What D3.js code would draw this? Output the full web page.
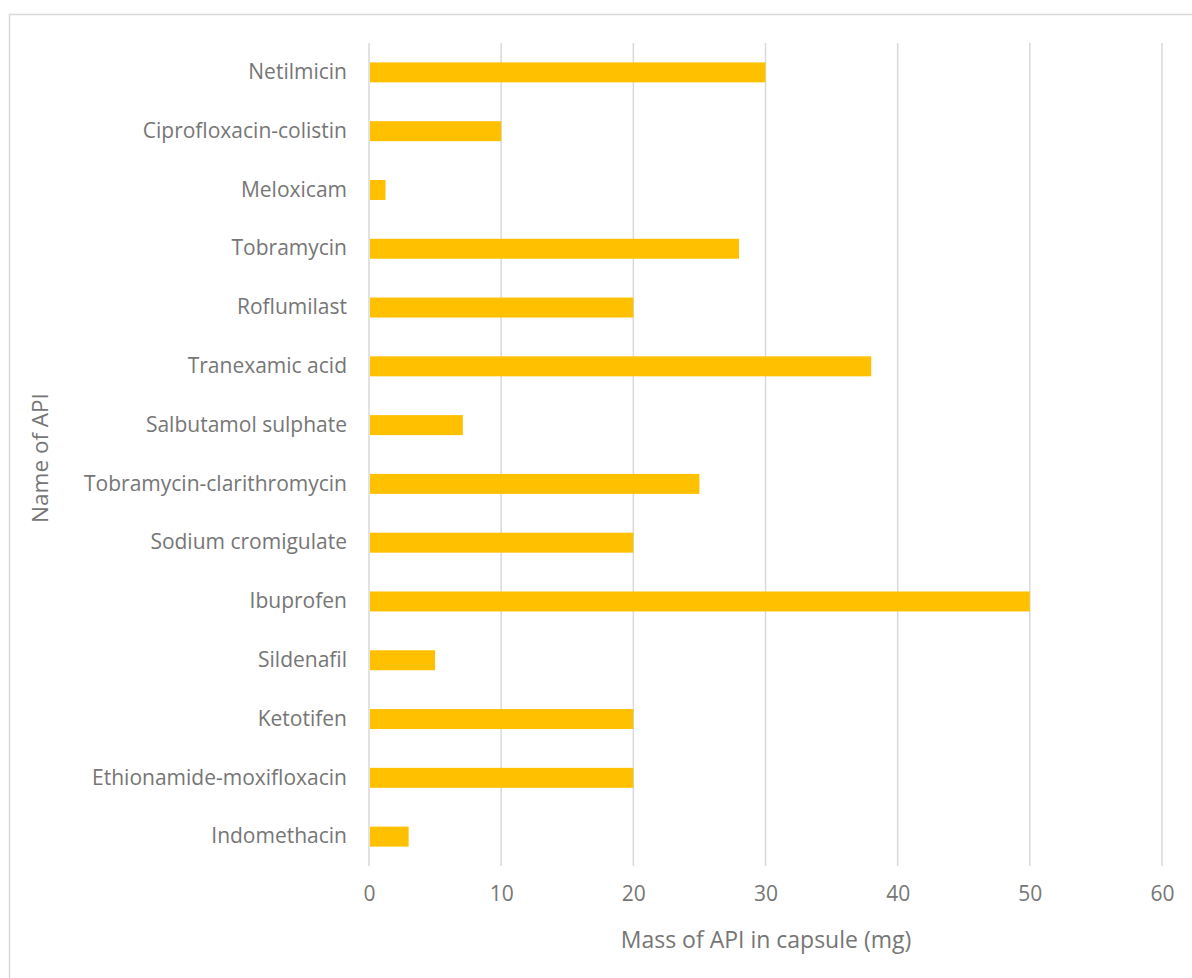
<!DOCTYPE html>
<html lang="en">
<head>
    <meta charset="UTF-8">
    <title>Mass of API in capsule</title>
    <script src="https://cdnjs.cloudflare.com/ajax/libs/d3/7.8.5/d3.min.js"></script>
    <style>
        body { margin: 0; background: #fff; }
        text { font-family: "Open Sans", sans-serif; fill: #767676; }
    </style>
</head>
<body>
<svg width="1192" height="978"></svg>
<script>
    // categories listed top to bottom
    var apiNames = [
        "Netilmicin", "Ciprofloxacin-colistin", "Meloxicam", "Tobramycin ",
        "Roflumilast", "Tranexamic acid", "Salbutamol sulphate",
        "Tobramycin-clarithromycin", "Sodium cromigulate", "Ibuprofen",
        "Sildenafil", "Ketotifen", "Ethionamide-moxifloxacin", "Indomethacin"
    ];
    var massMg = [30, 10, 1.25, 28, 20, 38, 7.1, 25, 20, 50, 5, 20, 20, 3];
    var xTicks = [0, 10, 20, 30, 40, 50, 60];

    var svg = d3.select("svg");
    var margin = {top: 43, right: 30, bottom: 112, left: 369};
    var width = 1162 - margin.left;
    var height = 866 - margin.top;

    // outer chart border
    svg.append("rect")
        .attr("x", 9.5).attr("y", 14.5)
        .attr("width", 1200).attr("height", 1000)
        .attr("fill", "none")
        .attr("stroke", "#d9d9d9")
        .attr("stroke-width", 1.5);

    var x = d3.scaleLinear().domain([0, 60]).range([0, width]);
    var y = d3.scaleBand().domain(apiNames).range([0, height]).paddingInner(0.66).paddingOuter(0.33);

    var g = svg.append("g")
        .attr("transform", "translate(" + margin.left + "," + margin.top + ")");

    // vertical gridlines
    g.append("g")
        .selectAll("line")
        .data(xTicks)
        .enter().append("line")
        .attr("x1", function(d) { return x(d); })
        .attr("x2", function(d) { return x(d); })
        .attr("y1", 0)
        .attr("y2", height)
        .attr("stroke", "#d9d9d9")
        .attr("stroke-width", 1.5);

    g.append("g")
        .selectAll("rect")
        .data(massMg)
        .enter().append("rect")
        .attr("x", x(0) + 1)
        .attr("y", function(d, i) { return y(apiNames[i]); })
        .attr("width", function(d) { return x(d) - x(0) - 1; })
        .attr("height", y.bandwidth())
        .attr("fill", "#ffc000");

    // x tick labels
    var xAxis = g.append("g")
        .attr("transform", "translate(0," + height + ")")
        .call(d3.axisBottom(x).tickValues(xTicks).tickSize(0).tickPadding(20));
    xAxis.select(".domain").remove();
    xAxis.selectAll("text").attr("font-size", 21).attr("fill", "#767676").style("font-family", "'Open Sans', sans-serif");

    // category labels
    var yAxis = g.append("g")
        .call(d3.axisLeft(y).tickSize(0).tickPadding(22));
    yAxis.select(".domain").remove();
    yAxis.selectAll("text").attr("font-size", 21).attr("fill", "#767676").style("font-family", "'Open Sans', sans-serif");

    svg.append("text")
        .attr("x", 766)
        .attr("y", 948)
        .attr("text-anchor", "middle")
        .attr("font-size", 23)
        .text("Mass of API in capsule (mg)");

    svg.append("text")
        .attr("transform", "translate(48,458) rotate(-90)")
        .attr("text-anchor", "middle")
        .attr("font-size", 22.5)
        .text("Name of API");
</script>
</body>
</html>
